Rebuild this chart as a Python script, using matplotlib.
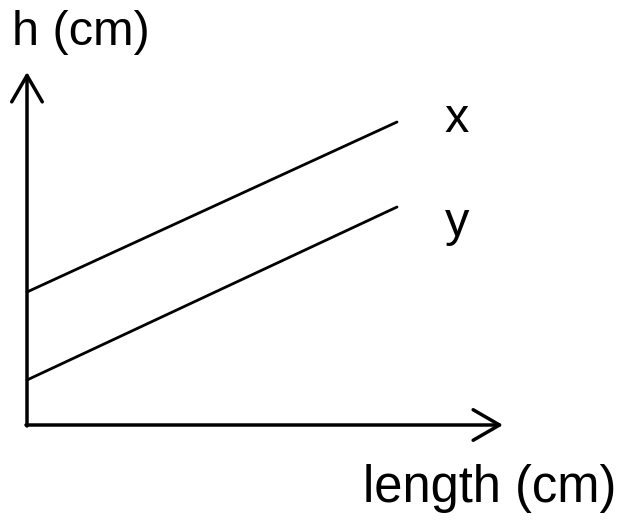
import matplotlib
matplotlib.use('Agg')
import matplotlib.pyplot as plt

plt.rcParams['font.family'] = ['Liberation Sans', 'DejaVu Sans']

# sketch data: length vs h for the two lines
length = [0, 370]
h_x = [133, 303]
h_y = [45, 218]
line_labels = ['x', 'y']

fig = plt.figure(figsize=(6.25, 5.23), dpi=100)
ax = fig.add_axes([0, 0, 1, 1])
ax.set_xlim(-27, 598)
ax.set_ylim(-98, 425)
ax.axis('off')

# axes with open arrow heads
arrow = dict(arrowstyle='->,head_length=1.9,head_width=1.1', lw=2.5,
             color='black', shrinkA=0, shrinkB=0)
ax.annotate('', xy=(0, 353), xytext=(0, -1), arrowprops=arrow)
ax.annotate('', xy=(476, 0), xytext=(-1, 0), arrowprops=arrow)

ax.plot(length, h_x, color='black', lw=2.0, solid_capstyle='round')
ax.plot(length, h_y, color='black', lw=2.0, solid_capstyle='round')

ax.text(430, 305, line_labels[0], fontsize=35, ha='center', va='center')
ax.text(430, 189, line_labels[1], fontsize=35, ha='center', va='baseline')

ax.text(-15, 380, 'h (cm)', fontsize=35, ha='left', va='baseline')
ax.text(336, -77, 'length (cm)', fontsize=36.5, ha='left', va='baseline')

fig.savefig('out.png', dpi=100)
